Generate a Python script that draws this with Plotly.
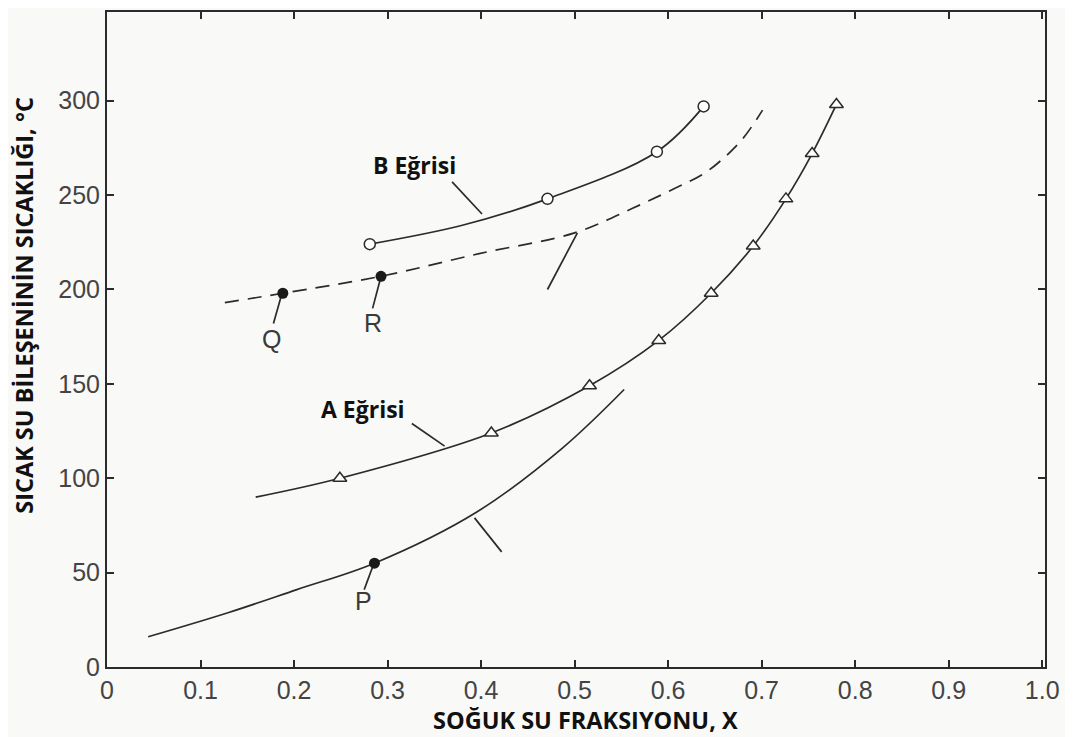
import plotly.graph_objects as go

# ---- data ----
b_x = [0.281, 0.380, 0.471, 0.588, 0.638]
b_y = [224, 234, 248, 273, 297]
b_mark_x = [0.281, 0.471, 0.588, 0.638]
b_mark_y = [224, 248, 273, 297]

dash_x = [0.126, 0.188, 0.293, 0.398, 0.500, 0.562, 0.609, 0.637, 0.658, 0.680, 0.701]
dash_y = [193, 198, 207, 219, 230, 243, 254, 261, 269, 280, 295]

a_x = [0.159, 0.249, 0.411, 0.516, 0.590, 0.646, 0.691, 0.726, 0.754, 0.780]
a_y = [90, 100, 124, 149, 173, 198, 223, 248, 272, 298]

low_x = [0.044, 0.131, 0.203, 0.286, 0.395, 0.487, 0.553]
low_y = [16, 29, 41, 55, 82, 116, 147]

pts_names = ["Q", "R", "P"]
pts_x = [0.188, 0.293, 0.286]
pts_y = [198, 207, 55]

# leader lines: (x0, y0, x1, y1) in data units
leaders = [
    (0.186, 196, 0.178, 182),   # Q
    (0.292, 205, 0.284, 190),   # R
    (0.284, 53, 0.275, 41),     # P
    (0.369, 257, 0.401, 240),   # B curve
    (0.503, 230, 0.471, 200),   # dashed curve
    (0.326, 129, 0.361, 117),   # A curve
    (0.393, 79, 0.422, 61),     # lower curve
]
texts = [
    ("Q", 0.176, 174, 25, "Arial", False),
    ("R", 0.284, 182, 25, "Arial", False),
    ("P", 0.274, 35, 25, "Arial", False),
    ("B Eğrisi", 0.329, 266, 23, "Open Sans", True),
    ("A Eğrisi", 0.2735, 136.5, 23, "Open Sans", True),
]

x_ticks = [0, 0.1, 0.2, 0.3, 0.4, 0.5, 0.6, 0.7, 0.8, 0.9, 1.0]
x_tick_text = ["0", "0.1", "0.2", "0.3", "0.4", "0.5", "0.6", "0.7", "0.8", "0.9", "1.0"]
y_ticks = [0, 50, 100, 150, 200, 250, 300]

x_title = "SOĞUK SU FRAKSIYONU, X"
y_title = "SICAK SU BİLEŞENİNİN SICAKLIĞI, °C"

INK = "#2b2b2b"
fig = go.Figure()

fig.add_trace(go.Scatter(x=b_x, y=b_y, mode="lines", line=dict(color=INK, width=1.7, shape="spline")))
fig.add_trace(go.Scatter(x=dash_x, y=dash_y, mode="lines",
                         line=dict(color=INK, width=1.7, shape="spline", dash="14px,9px")))
fig.add_trace(go.Scatter(x=a_x, y=a_y, mode="lines", line=dict(color=INK, width=1.7, shape="spline")))
fig.add_trace(go.Scatter(x=low_x, y=low_y, mode="lines", line=dict(color=INK, width=1.7, shape="spline")))

for (x0, y0, x1, y1) in leaders:
    fig.add_trace(go.Scatter(x=[x0, x1], y=[y0, y1], mode="lines", line=dict(color=INK, width=1.7)))

fig.add_trace(go.Scatter(x=b_mark_x, y=b_mark_y, mode="markers",
                         marker=dict(symbol="circle", size=11, color="white", line=dict(color=INK, width=1.5))))
fig.add_trace(go.Scatter(x=a_x[1:], y=a_y[1:], mode="markers",
                         marker=dict(symbol="triangle-up", size=12, color="white", line=dict(color=INK, width=1.5))))
fig.add_trace(go.Scatter(x=pts_x, y=pts_y, mode="markers",
                         marker=dict(symbol="circle", size=11, color="#1a1a1a")))

for (t, x, y, s, fam, bold) in texts:
    fig.add_annotation(x=x, y=y, text=f"<b>{t}</b>" if bold else t, showarrow=False,
                       font=dict(size=s, family=fam, color="#111" if bold else "#3a3a3a"))

fig.add_annotation(xref="paper", yref="paper", x=0.51, y=-0.081, xanchor="center", yanchor="middle",
                   text=f"<b>{x_title}</b>",
                   showarrow=False, font=dict(family="Open Sans", size=23.5, color="#111"))
fig.add_annotation(xref="paper", yref="paper", x=-0.0885, y=0.553, xanchor="center", yanchor="middle",
                   text=f"<b>{y_title}</b>",
                   textangle=-90, showarrow=False, font=dict(family="Open Sans", size=23.5, color="#111"))

axis_common = dict(showgrid=False, zeroline=False, showline=True, linecolor=INK, linewidth=2,
                   mirror="ticks", ticks="inside", ticklen=7, tickwidth=1.5, tickcolor=INK,
                   automargin=False)

# the page body has an 8px default margin, so the figure is sized to the visible window
fig.update_layout(
    width=1065, height=729,
    margin=dict(l=99, r=28, t=4, b=70),
    paper_bgcolor="#f9f9f7", plot_bgcolor="#f9f9f7",
    showlegend=False,
    xaxis=dict(range=[0, 1.003], tickvals=x_ticks, ticktext=x_tick_text,
               tickfont=dict(family="Arial", size=25, color="#444"),
               **axis_common),
    yaxis=dict(range=[0, 347], tickvals=y_ticks,
               tickfont=dict(family="Arial", size=25, color="#444"),
               **axis_common),
)

fig.write_html("out.html")
